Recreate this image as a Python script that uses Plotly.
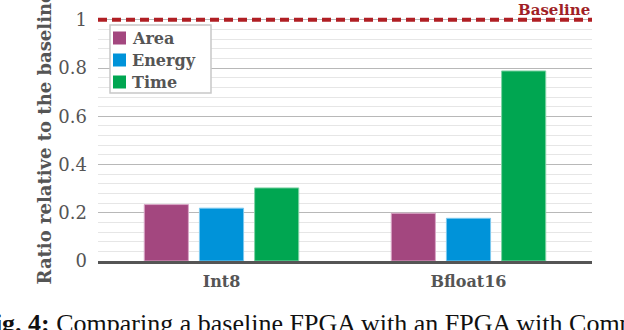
import plotly.graph_objects as go

categories = ["Int8", "Bfloat16"]
series_names = ["Area", "Energy", "Time"]
area = [0.234, 0.198]
energy = [0.219, 0.177]
time_ = [0.303, 0.788]
baseline = 1.0
y_tickvals = [0, 0.2, 0.4, 0.6, 0.8, 1.0]
y_ticktext = ["0", "0.2", "0.4", "0.6", "0.8", "1"]

colors = ["#a3477f", "#0093d9", "#00a651"]
edge = ["#d9a6c6", "#7cc8ee", "#7fd3a6"]

FONT = "DejaVu Serif"
W, H = 624, 330
ml, mr, mt, mb = 98, 32, 15, 69
pw, ph = W - ml - mr, H - mt - mb


def px(x):
    return (x - ml) / pw


def py(y):
    return (H - mb - y) / ph


fig = go.Figure()
for name, vals, c, e in zip(series_names, [area, energy, time_], colors, edge):
    fig.add_trace(go.Bar(x=categories, y=vals, name=name, showlegend=False,
                         marker=dict(color=c, line=dict(color=e, width=1))))

# baseline
fig.add_shape(type="line", xref="paper", yref="y", x0=0, x1=1, y0=baseline, y1=baseline,
              line=dict(color="#b01f24", width=4, dash="9px,5px"), layer="above")
fig.add_annotation(text="<b>Baseline</b>", xref="paper", yref="y", x=1, y=baseline, xanchor="right",
                   yanchor="bottom", showarrow=False, yshift=-1,
                   font=dict(family=FONT, size=15, color="#a01e26"))

# legend (drawn manually to match compact layout)
fig.add_shape(type="rect", xref="paper", yref="paper", x0=px(110), x1=px(211), y0=py(93), y1=py(25),
              line=dict(color="#c8c8c8", width=1.5), fillcolor="white", layer="above")
for i, (name, c) in enumerate(zip(series_names, colors)):
    cy = 38 + i * 22
    fig.add_shape(type="rect", xref="paper", yref="paper", x0=px(113), x1=px(126),
                  y0=py(cy + 6.5), y1=py(cy - 6.5), line=dict(color=c, width=0), fillcolor=c, layer="above")
    fig.add_annotation(text="<b>" + name + "</b>", xref="paper", yref="paper", x=px(130), y=py(cy),
                       xanchor="left", yanchor="middle", showarrow=False,
                       font=dict(family=FONT, size=16, color="#555"))

# cropped caption
fig.add_annotation(text="<b>Fig. 4:</b> Comparing a baseline FPGA with an FPGA with Compute RAMs",
                   xref="paper", yref="paper", x=px(-23), y=py(323),
                   xanchor="left", yanchor="middle", showarrow=False,
                   font=dict(family="Liberation Serif", size=26, color="#111"))

fig.update_layout(
    width=W, height=H,
    margin=dict(l=ml, r=mr, t=mt, b=mb),
    plot_bgcolor="white", paper_bgcolor="white",
    barmode="group", bargap=0.33, bargroupgap=0.2,
    font=dict(family=FONT, color="#555"),
    showlegend=False,
)
fig.update_xaxes(showgrid=False, showline=True, linecolor="#555", linewidth=2.5,
                 tickfont=dict(family=FONT, size=16, color="#555"), ticks="",
                 tickprefix="<b>", ticksuffix="</b>", ticklabelstandoff=4, automargin=False)
fig.update_yaxes(range=[0, 1.02], tickvals=y_tickvals, ticktext=y_ticktext,
                 showgrid=True, gridcolor="#b8b8b8", gridwidth=1.2, zeroline=False,
                 showline=False, ticks="", ticklabelstandoff=10, automargin=False,
                 tickfont=dict(family=FONT, size=18, color="#555"),
                 minor=dict(dtick=0.04, showgrid=True, gridcolor="#e6e6e6", gridwidth=1.2),
                 title=dict(text="<b>Ratio relative to the baseline</b>", standoff=2,
                            font=dict(family=FONT, size=18, color="#555")))

fig.write_html("out.html", config={"displayModeBar": False},
               post_script="document.body.style.margin='0';")
